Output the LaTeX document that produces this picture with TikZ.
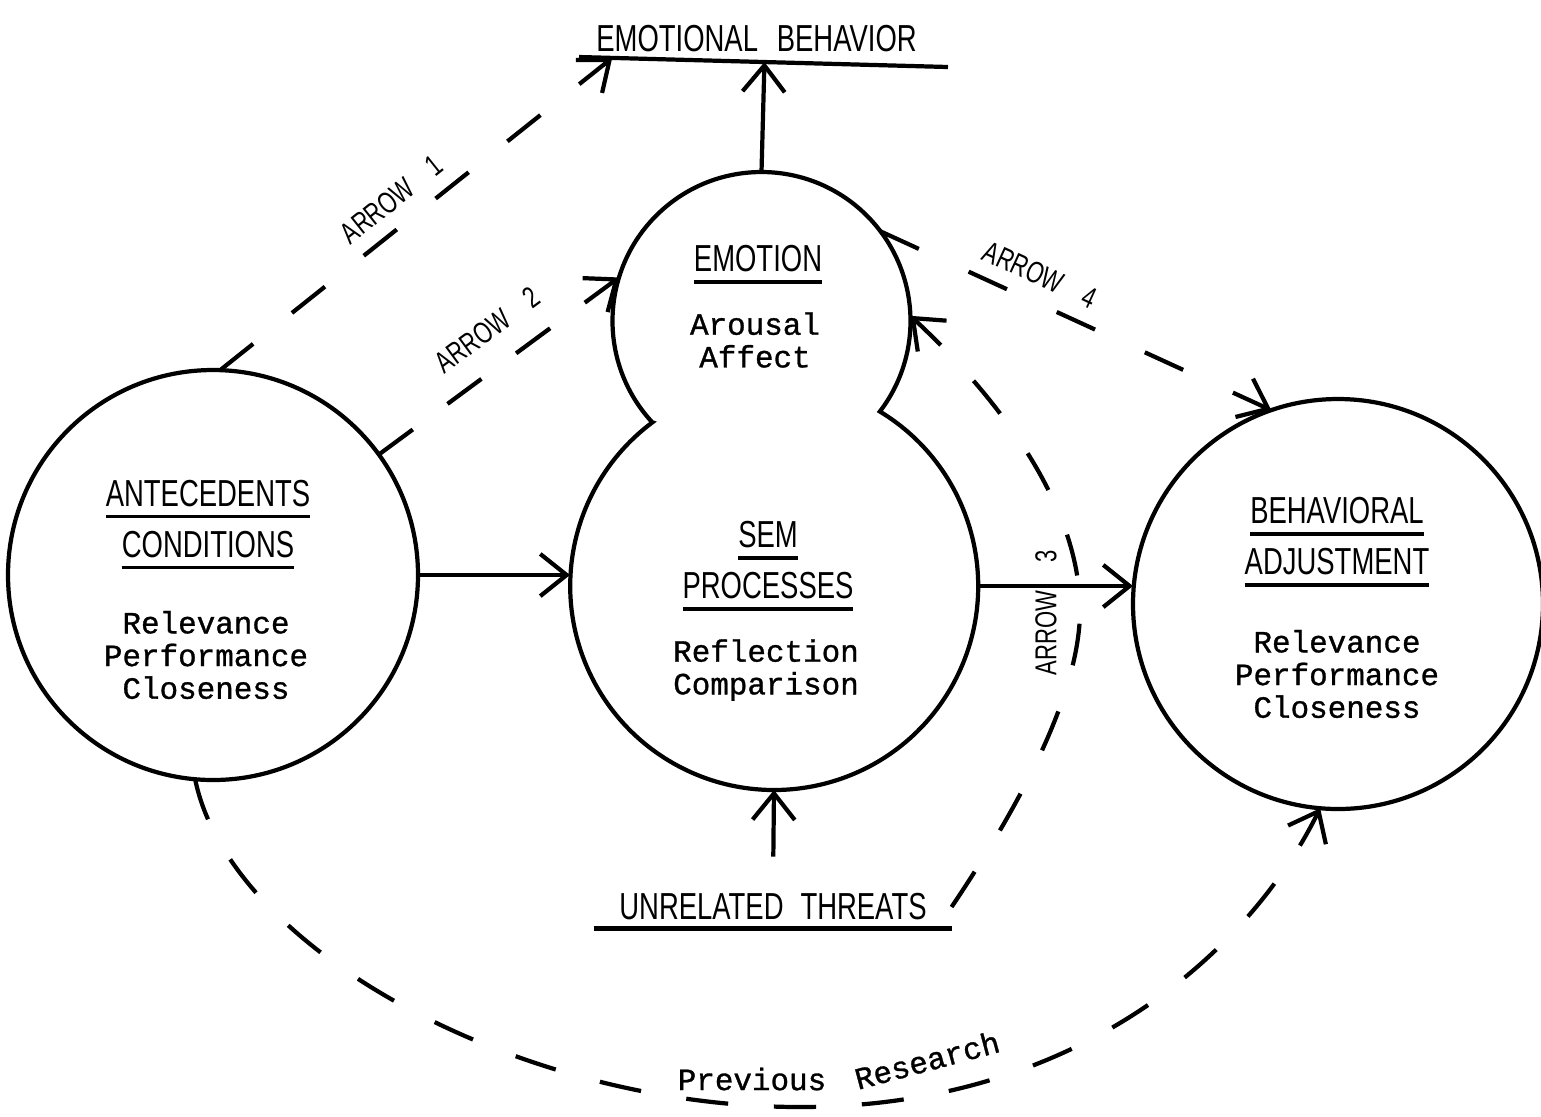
\documentclass[tikz,border=0pt]{standalone}
\usepackage{fontspec}
\newfontfamily\headfont[FakeStretch=0.73]{Liberation Sans}
\newfontfamily\typefont[FakeBold=1]{Liberation Mono}
\usetikzlibrary{arrows.meta,calc,decorations}
\newcommand{\uhead}[1]{\setbox0=\hbox{#1}\rlap{\rule[-3.4pt]{\wd0}{0.9pt}}\box0}

\begin{document}
\begin{tikzpicture}[line width=1.2pt,
   tip_style/.style={-{Straight Barb[length=7.5pt,width=12pt]}},
   bubble_style/.style={circle, draw=black, inner sep=0pt, outer sep=0pt},
   head_style/.style={align=center, font=\headfont\fontsize{10.7}{14.5}\selectfont, inner sep=0pt},
   body_style/.style={align=center, font=\typefont\fontsize{8.8}{9.3}\selectfont, inner sep=0pt},
   label_style/.style={font=\headfont\fontsize{8.6}{10}\selectfont, inner sep=1.5pt},
   edge_style/.style={tip_style, draw=black},
   dash_style/.style={edge_style, dash pattern=on 12pt off 12pt, dash phase=12pt, dash expand off}]

    \useasboundingbox (0,0) rectangle (15.41,-11.16);

    % circles
    \node[bubble_style, minimum size=4.1cm] (ante) at (2.13,-5.75) {};
    \node[bubble_style, minimum size=4.1cm] (adj) at (13.38,-6.04) {};
    \node[bubble_style, draw=none, minimum size=2.98cm] (emo) at (7.615,-3.21) {};
    \node[bubble_style, draw=none, minimum size=4.08cm] (sem) at (7.74,-5.86) {};
    \draw (emo.center) ++(222.8:1.49) arc[start angle=222.8, end angle=-37.4, radius=1.49]
        arc[start angle=58.8, end angle=-233.35, radius=2.04] -- cycle;

    % texts
    \node[head_style] (anteHead) at (2.08,-5.245) {\uhead{ANTECEDENTS}\\\uhead{CONDITIONS}};
    \node[body_style] (anteBody) at (2.06,-6.55) {Relevance\\Performance\\Closeness};
    \node[head_style] (emoHead) at (7.58,-2.645) {\uhead{EMOTION}};
    \node[body_style] (emoBody) at (7.55,-3.40) {Arousal\\Affect};
    \node[head_style] (semHead) at (7.68,-5.66) {\uhead{SEM}\\\uhead{PROCESSES}};
    \node[body_style] (semBody) at (7.66,-6.70) {Reflection\\Comparison};
    \node[head_style] (adjHead) at (13.37,-5.42) {\uhead{BEHAVIORAL}\\\uhead{ADJUSTMENT}};
    \node[body_style] (adjBody) at (13.37,-6.74) {Relevance\\Performance\\Closeness};

    \node[head_style] (emoBehav) at (7.565,-0.385) {EMOTIONAL\hspace{0.5em}BEHAVIOR};
    \coordinate (ebL) at (5.79,-0.57);
    \coordinate (ebR) at (9.48,-0.67);
    \draw (ebL) -- (ebR);
    \node[head_style, inner xsep=6.5pt, inner ysep=1.7pt] (threats) at (7.73,-9.07) {UNRELATED\hspace{0.45em}THREATS};
    \draw (threats.south west) -- (threats.south east);

    % solid arrows
    \coordinate (ebA1) at ($(ebL)!0.09!(ebR)$);
    \coordinate (ebTop) at ($(ebL)!(emo.north)!(ebR)$);
    \path (emo.north) edge[edge_style] (ebTop);
    \path (ante.east) edge[edge_style] (ante.east -| sem.west);
    \path (sem.east) edge[edge_style] (sem.east -| adj.west);
    \path (threats.north) edge[edge_style, shorten <=0.29cm] (sem.south);

    % dashed arrows
    \path (ante.88) edge[dash_style] node[label_style, above=2.5pt, sloped, pos=0.48] (arrowOne) {ARROW\hspace{0.8em}1} (ebA1);
    \path (ante.36) edge[dash_style] node[label_style, above=5pt, sloped, pos=0.54] (arrowTwo) {ARROW\hspace{0.8em}2} (emo.163);
    \path (emo.37) edge[dash_style] node[label_style, above=2.5pt, sloped, pos=0.38] (arrowFour) {ARROW\hspace{0.8em}4} (adj.109);
    \node[label_style, rotate=90] (arrowThree) at (10.46,-6.13) {ARROW\hspace{8pt}3};
    \draw [dash_style] (threats.east) .. controls (10.10,-8.20) and (10.80,-7.00) .. (10.80,-6.10)
        .. controls (10.80,-5.00) and (9.90,-3.90) .. (emo.2);
    \draw [dash_style] (ante.265) .. controls (2.30,-9.50) and (5.20,-11.07) .. (8.00,-11.07)
        .. controls (10.80,-11.07) and (12.50,-9.50) .. (adj.265);
    \node[body_style] (prevText) at (7.52,-10.79) {Previous};
    \node[body_style, rotate=15] (researchText) at (9.27,-10.60) {Research};
\end{tikzpicture}
\end{document}
